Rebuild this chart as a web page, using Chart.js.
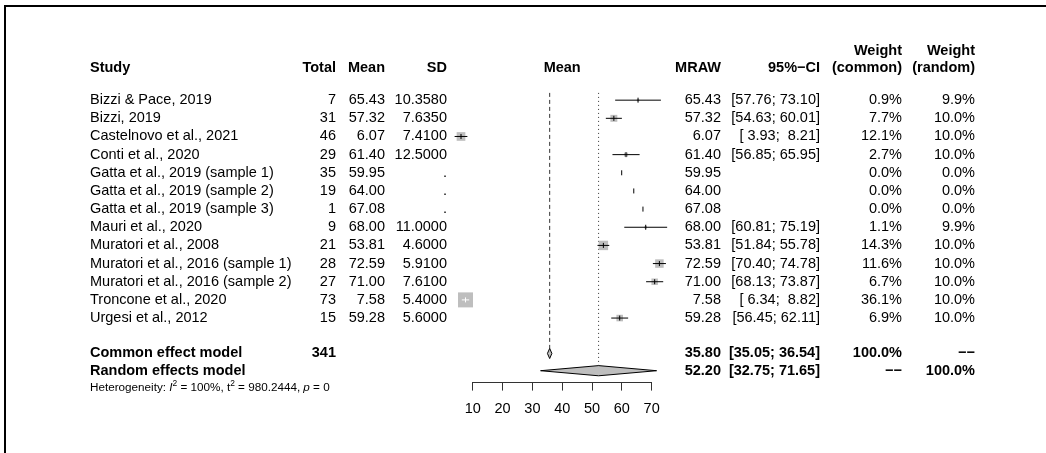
<!DOCTYPE html>
<html>
<head>
<meta charset="utf-8">
<title>Forest plot</title>
<script src="https://cdn.jsdelivr.net/npm/chart.js@4.4.0/dist/chart.umd.min.js"></script>
<style>
    html, body { margin: 0; padding: 0; background: #fff; }
    #wrap { position: relative; width: 1046px; height: 453px; overflow: hidden; }
    #frame { position: absolute; left: 4px; top: 5px; width: 1100px; height: 500px; border-left: 2px solid #000; border-top: 2px solid #000; }
    #forest { position: absolute; left: 0; top: 0; }
</style>
</head>
<body>
<div id="wrap">
    <div id="frame"></div>
    <canvas id="forest" width="1046" height="453"></canvas>
</div>
<script>
// Studies
const studies = [
    'Bizzi & Pace, 2019', 'Bizzi, 2019', 'Castelnovo et al., 2021', 'Conti et al., 2020',
    'Gatta et al., 2019 (sample 1)', 'Gatta et al., 2019 (sample 2)', 'Gatta et al., 2019 (sample 3)',
    'Mauri et al., 2020', 'Muratori et al., 2008', 'Muratori et al., 2016 (sample 1)',
    'Muratori et al., 2016 (sample 2)', 'Troncone et al., 2020', 'Urgesi et al., 2012'
];
const totals = [7, 31, 46, 29, 35, 19, 1, 9, 21, 28, 27, 73, 15];
const means = [65.43, 57.32, 6.07, 61.40, 59.95, 64.00, 67.08, 68.00, 53.81, 72.59, 71.00, 7.58, 59.28];
const sds = ['10.3580', '7.6350', '7.4100', '12.5000', '.', '.', '.', '11.0000', '4.6000', '5.9100', '7.6100', '5.4000', '5.6000'];
const ciLower = [57.76, 54.63, 3.93, 56.85, null, null, null, 60.81, 51.84, 70.40, 68.13, 6.34, 56.45];
const ciUpper = [73.10, 60.01, 8.21, 65.95, null, null, null, 75.19, 55.78, 74.78, 73.87, 8.82, 62.11];
const weightCommon = [0.9, 7.7, 12.1, 2.7, 0.0, 0.0, 0.0, 1.1, 14.3, 11.6, 6.7, 36.1, 6.9];
const weightRandom = [9.9, 10.0, 10.0, 10.0, 0.0, 0.0, 0.0, 9.9, 10.0, 10.0, 10.0, 10.0, 10.0];

// Pooled estimates (common, random)
const pooledLabels = ['Common effect model', 'Random effects model'];
const pooledEst = [35.80, 52.20];
const pooledLower = [35.05, 32.75];
const pooledUpper = [36.54, 71.65];
const pooledWeightCommon = ['100.0%', '\u2212\u2212'];
const pooledWeightRandom = ['\u2212\u2212', '100.0%'];
const totalN = 341;

// Heterogeneity
const hetI2 = '100%';
const hetTau2 = '980.2444';
const hetP = '0';

const xTicks = [10, 20, 30, 40, 50, 60, 70];

const FONT = "'Liberation Sans', Arial, Helvetica, sans-serif";
const FS = 14.5;
const ROW_COMMON = 13.95;
const ROW_RANDOM = 14.9;
const ROW_HET = 15.85;
const DIAMOND_H = 0.28;   // half height in row units
const SQ_MAX = 15;        // side (px) of the biggest box
const GREY = '#bebebe';

const maxW = Math.max(...weightCommon);
const boxSide = i => weightCommon[i] > 0 ? SQ_MAX * Math.sqrt(weightCommon[i] / maxW) : 0;

// CI drawn in white when it fits inside the box
function ciInside(chart, i) {
    if (ciLower[i] === null) return false;
    const x = chart.scales.x;
    const w = x.getPixelForValue(ciUpper[i]) - x.getPixelForValue(ciLower[i]);
    return w <= boxSide(i);
}

const fmt2 = v => v.toFixed(2);
const pad5 = v => (v < 10 ? ' ' : '') + v.toFixed(2);
const ciText = (lo, hi) => lo === null ? '' : `[${pad5(lo)}; ${pad5(hi)}]`;

// Confidence interval segments, broken with gaps
const ciPoints = [];
const ciIndex = [];
studies.forEach((s, i) => {
    if (ciLower[i] === null) return;
    ciPoints.push({ x: ciLower[i], y: i }, { x: ciUpper[i], y: i }, { x: null, y: null });
    ciIndex.push(i, i, i);
});

const boxPoints = [];
const boxIndex = [];
studies.forEach((s, i) => {
    if (weightCommon[i] > 0) {
        boxPoints.push({ x: means[i], y: i });
        boxIndex.push(i);
    }
});

const tablePlugin = {
    id: 'forestTable',
    afterDatasetsDraw(chart) {
        const { ctx, scales: { x, y } } = chart;
        ctx.save();
        // axis line only over the tick range
        const ay = Math.round(y.bottom) + 0.5;
        ctx.beginPath();
        ctx.moveTo(x.getPixelForValue(xTicks[0]), ay);
        ctx.lineTo(x.getPixelForValue(xTicks[xTicks.length - 1]), ay);
        ctx.strokeStyle = '#333';
        ctx.lineWidth = 1;
        ctx.stroke();

        // pooled diamonds
        for (let k = 0; k < 2; k++) {
            const row = k === 0 ? ROW_COMMON : ROW_RANDOM;
            const cy = y.getPixelForValue(row);
            const dh = y.getPixelForValue(row + DIAMOND_H) - cy;
            ctx.beginPath();
            ctx.moveTo(x.getPixelForValue(pooledLower[k]), cy);
            ctx.lineTo(x.getPixelForValue(pooledEst[k]), cy - dh);
            ctx.lineTo(x.getPixelForValue(pooledUpper[k]), cy);
            ctx.lineTo(x.getPixelForValue(pooledEst[k]), cy + dh);
            ctx.closePath();
            ctx.fillStyle = GREY;
            ctx.fill();
            ctx.strokeStyle = '#000';
            ctx.lineWidth = 1;
            ctx.stroke();
        }
        ctx.restore();
    },
    afterDraw(chart) {
        const { ctx, scales: { x, y } } = chart;
        ctx.save();
        ctx.fillStyle = '#000';
        ctx.textBaseline = 'middle';

        const put = (text, px, py, align, bold) => {
            ctx.font = `${bold ? 'bold ' : ''}${FS}px ${FONT}`;
            ctx.textAlign = align;
            ctx.fillText(text, px, py);
        };

        const col = { study: 90, total: 336, mean: 385, sd: 447, mraw: 721, ci: 820, wc: 902, wr: 975 };
        const midX = (x.getPixelForValue(xTicks[0]) + x.getPixelForValue(xTicks[xTicks.length - 1])) / 2;

        // headers
        const h1 = y.getPixelForValue(-2.7);
        const h2 = y.getPixelForValue(-1.75);
        put('Weight', col.wc, h1, 'right', true);
        put('Weight', col.wr, h1, 'right', true);
        put('Study', col.study, h2, 'left', true);
        put('Total', col.total, h2, 'right', true);
        put('Mean', col.mean, h2, 'right', true);
        put('SD', col.sd, h2, 'right', true);
        put('Mean', midX, h2, 'center', true);
        put('MRAW', col.mraw, h2, 'right', true);
        put('95%\u2212CI', col.ci, h2, 'right', true);
        put('(common)', col.wc, h2, 'right', true);
        put('(random)', col.wr, h2, 'right', true);

        // study rows
        studies.forEach((s, i) => {
            const py = y.getPixelForValue(i);
            put(s, col.study, py, 'left', false);
            put(String(totals[i]), col.total, py, 'right', false);
            put(fmt2(means[i]), col.mean, py, 'right', false);
            put(sds[i], col.sd, py, 'right', false);
            put(fmt2(means[i]), col.mraw, py, 'right', false);
            put(ciText(ciLower[i], ciUpper[i]), col.ci, py, 'right', false);
            put(weightCommon[i].toFixed(1) + '%', col.wc, py, 'right', false);
            put(weightRandom[i].toFixed(1) + '%', col.wr, py, 'right', false);
        });

        // pooled rows
        [ROW_COMMON, ROW_RANDOM].forEach((row, k) => {
            const py = y.getPixelForValue(row);
            put(pooledLabels[k], col.study, py, 'left', true);
            if (k === 0) put(String(totalN), col.total, py, 'right', true);
            put(fmt2(pooledEst[k]), col.mraw, py, 'right', true);
            put(ciText(pooledLower[k], pooledUpper[k]), col.ci, py, 'right', true);
            put(pooledWeightCommon[k], col.wc, py, 'right', true);
            put(pooledWeightRandom[k], col.wr, py, 'right', true);
        });

        // heterogeneity line with italics and superscripts
        const hs = 11.7;
        const py = y.getPixelForValue(ROW_HET);
        const parts = [
            ['Heterogeneity: ', ''], ['I', 'italic '], ['2', 'sup'], [` = ${hetI2}, `, ''],
            ['t', ''], ['2', 'sup'], [` = ${hetTau2}, `, ''], ['p', 'italic '], [` = ${hetP}`, '']
        ];
        let px = col.study;
        ctx.textAlign = 'left';
        parts.forEach(([t, st]) => {
            if (st === 'sup') {
                ctx.font = `${hs * 0.72}px ${FONT}`;
                ctx.fillText(t, px, py - 4);
            } else {
                ctx.font = `${st}${hs}px ${FONT}`;
                ctx.fillText(t, px, py);
            }
            px += ctx.measureText(t).width;
        });
        ctx.restore();
    }
};

const chart = new Chart(document.getElementById('forest'), {
    data: {
        datasets: [
            {
                type: 'line',
                data: [{ x: pooledEst[0], y: -0.4 }, { x: pooledEst[0], y: ROW_COMMON - DIAMOND_H }],
                borderColor: '#333', borderWidth: 1, borderDash: [4, 3],
                pointRadius: 0, clip: false, order: 5
            },
            {
                type: 'line',
                data: [{ x: pooledEst[1], y: -0.4 }, { x: pooledEst[1], y: ROW_RANDOM - DIAMOND_H }],
                borderColor: '#333', borderWidth: 1, borderDash: [1, 3],
                pointRadius: 0, clip: false, order: 5
            },
            {
                type: 'scatter',
                data: boxPoints,
                pointStyle: 'rect',
                pointRadius: c => boxSide(boxIndex[c.dataIndex]) / Math.SQRT2,
                pointHoverRadius: c => boxSide(boxIndex[c.dataIndex]) / Math.SQRT2,
                backgroundColor: GREY, borderColor: GREY, borderWidth: 0,
                clip: false, order: 4
            },
            {
                type: 'line',
                data: ciPoints,
                spanGaps: false,
                borderWidth: 1,
                borderColor: '#000',
                segment: {
                    borderColor: c => ciInside(c.chart, ciIndex[c.p0DataIndex]) ? '#fff' : '#000'
                },
                pointRadius: 0, clip: false, order: 3
            },
            {
                type: 'scatter',
                data: means.map((m, i) => ({ x: m, y: i })),
                pointStyle: 'line',
                rotation: 90,
                pointRadius: 2.5,
                pointHoverRadius: 2.5,
                borderWidth: 1,
                borderColor: c => ciInside(c.chart, c.dataIndex) ? '#fff' : '#000',
                clip: false, order: 2
            }
        ]
    },
    options: {
        responsive: false,
        animation: false,
        devicePixelRatio: 1,
        // x range 0..80 keeps the outlying studies inside the chart area
        layout: { padding: { left: 442.9, right: 364.5, top: 82, bottom: 25 } },
        plugins: { legend: { display: false }, tooltip: { enabled: false } },
        events: [],
        scales: {
            x: {
                type: 'linear',
                position: 'bottom',
                min: 0,
                max: 80,
                afterBuildTicks: axis => { axis.ticks = xTicks.map(v => ({ value: v })); },
                grid: { drawOnChartArea: false, drawTicks: true, tickLength: 9, tickColor: '#333', tickWidth: 1 },
                border: { display: false },
                ticks: {
                    font: { family: FONT, size: FS },
                    color: '#000',
                    padding: 10,
                    maxRotation: 0,
                    autoSkip: false
                }
            },
            y: { type: 'linear', min: -1, max: 15.5, reverse: true, display: false }
        }
    },
    plugins: [tablePlugin]
});
</script>
</body>
</html>
